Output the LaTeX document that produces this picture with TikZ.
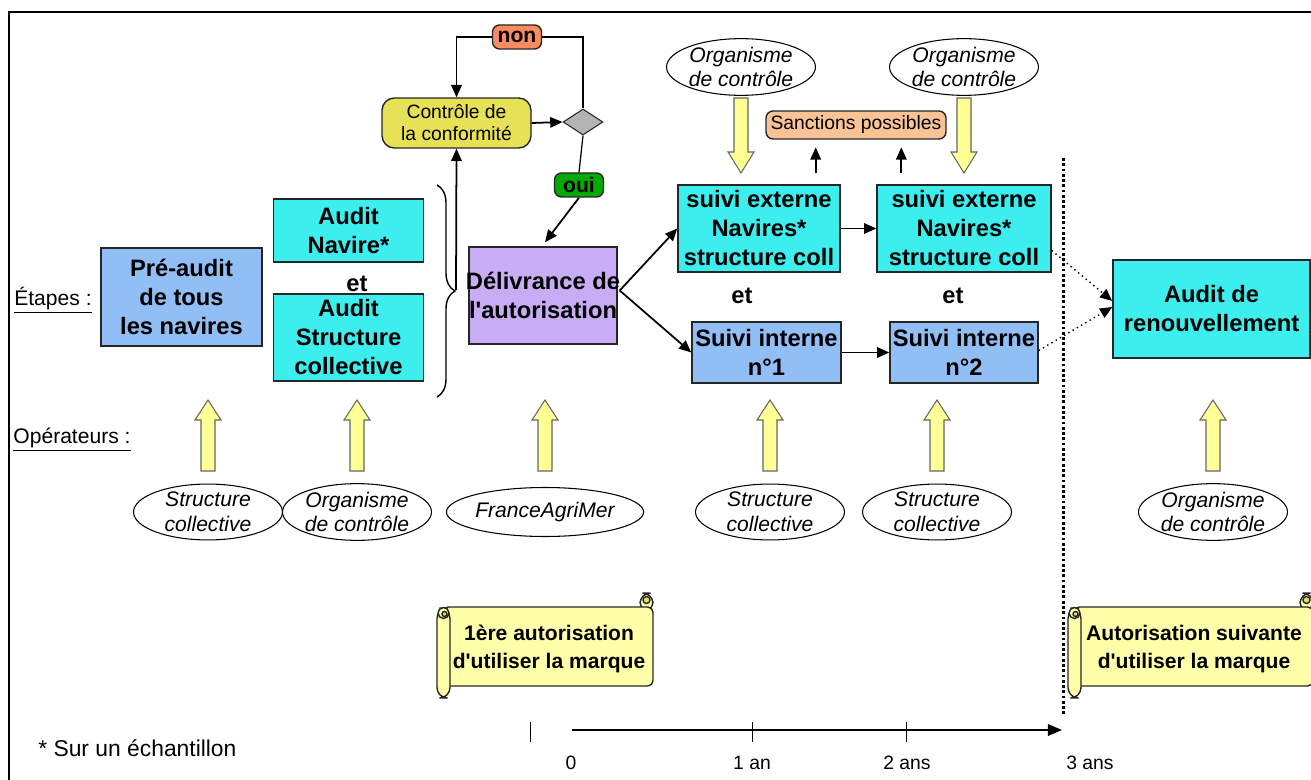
\documentclass[tikz,border=0pt]{standalone}
\usepackage{fontspec}
\setmainfont{Liberation Sans}[Ligatures=TeXOff]
\usetikzlibrary{shapes.geometric,arrows.meta,decorations.pathreplacing,calc}

\definecolor{cyanbox}{RGB}{60,238,238}
\definecolor{bluebox}{RGB}{145,190,245}
\definecolor{lilacbox}{RGB}{200,172,245}
\definecolor{ctrlyellow}{RGB}{230,225,85}
\definecolor{nonorange}{RGB}{250,140,95}
\definecolor{ouigreen}{RGB}{0,170,0}
\definecolor{sanctorange}{RGB}{250,195,150}
\definecolor{decgray}{RGB}{180,180,180}
\definecolor{scrollyellow}{RGB}{255,255,170}
\definecolor{scrolldark}{RGB}{225,225,110}
\definecolor{arrowyellow}{RGB}{255,255,150}

% scroll banner: left x, right x
\newcommand{\scrollshape}[2]{%
  \filldraw[scrollline, rounded corners=6] (#2-13,612) rectangle (#2,593);
  \filldraw[scrollline, rounded corners=3] (#1+6,607) rectangle (#2,686);
  \filldraw[scrollline, fill=scrolldark] (#2-6.5,600) circle (3.5);
  \filldraw[scrollline, rounded corners=6] (#1,608) rectangle (#1+13,698);
  \filldraw[scrollline] (#1+6.5,613) circle (5.5);
  \filldraw[scrollline, fill=scrolldark] (#1+7.5,614) circle (2.5);
}

% block arrow: x, tail y, neck y, tip y
\newcommand{\blockarrow}[4]{%
  \filldraw[yarrow] (#1-7,#2) -- (#1-7,#3) -- (#1-13,#3) -- (#1,#4)
    -- (#1+13,#3) -- (#1+7,#3) -- (#1+7,#2) -- cycle;
}

\begin{document}
\begin{tikzpicture}[x=0.02cm, y=-0.02cm,
    box/.style={draw=black!85, line width=0.8pt, align=center, inner sep=1pt,
      font=\bfseries\fontsize{13.5}{16.5}\selectfont},
    boxtext/.style={align=center, inner sep=0pt,
      font=\bfseries\fontsize{13.5}{16.5}\selectfont},
    tag/.style={draw=black!85, line width=0.8pt, rounded corners=4pt, align=center,
      inner sep=1pt},
    op/.style={ellipse, draw, line width=0.6pt, fill=white, inner sep=0pt,
      minimum width=2.98cm, minimum height=0.98cm, align=center,
      font=\itshape\fontsize{12}{14}\selectfont},
    yarrow/.style={draw=black!60, line width=0.6pt, fill=arrowyellow},
    lab/.style={inner sep=0pt, font=\fontsize{12}{14}\selectfont},
    etlab/.style={inner sep=0pt, font=\bfseries\fontsize{13.5}{16}\selectfont},
    arr/.style={line width=1pt, -{Triangle[length=7pt, width=6pt]}},
    thinline/.style={line width=0.7pt},
    dotarr/.style={line width=0.8pt, dotted, -{Triangle[length=7pt, width=6pt]}},
    scrollline/.style={draw=black!85, line width=0.8pt, fill=scrollyellow},
    scrolltext/.style={align=center, inner sep=0pt,
      font=\bfseries\fontsize{12}{16}\selectfont},
    ticklab/.style={inner sep=0pt, font=\fontsize{11}{13}\selectfont}
  ]
\useasboundingbox (0,0) rectangle (1311,780);
\clip (0,0) rectangle (1311,780);
\draw[line width=0.9pt] (9,12) rectangle (1340,800);

% row titles
\node[lab] (etapes) at (53,300) {\underline{Étapes :}};
\node[lab] (oper) at (72,440) {\underline{Opérateurs :}};

% first audits
\node[box, fill=bluebox, minimum width=3.22cm, minimum height=1.96cm] (pre) at (181.5,297)
  {Pré-audit\\de tous\\les navires};
\node[box, fill=cyanbox, minimum width=3.0cm, minimum height=1.26cm] (auditnav) at (348.5,230.5)
  {Audit\\Navire*};
\node[etlab] (et1) at (357,284) {et};
\node[box, fill=cyanbox, minimum width=3.0cm, minimum height=1.74cm] (auditsc) at (348.5,337.5)
  {Audit\\Structure\\collective};
\draw[line width=0.8pt, decorate, decoration={brace, amplitude=0.36cm}] (437,185) -- (437,397);
\coordinate (bracetip) at (456,290);

% compliance loop
\node[tag, fill=ctrlyellow, rounded corners=7pt, minimum width=2.98cm, minimum height=1.0cm,
  font=\fontsize{11}{12.5}\selectfont] (ctrl) at (456.5,123) {Contrôle de\\la conformité};
\node[diamond, draw=black!85, line width=0.6pt, fill=decgray, inner sep=0pt,
  minimum width=0.8cm, minimum height=0.52cm] (dec) at (583,122) {};
\node[tag, fill=nonorange, minimum width=0.98cm, minimum height=0.48cm,
  font=\bfseries\fontsize{12}{13}\selectfont] (non) at (517,37) {non};
\node[tag, fill=ouigreen, minimum width=0.98cm, minimum height=0.48cm,
  font=\bfseries\fontsize{12}{13}\selectfont] (oui) at (579,185) {oui};

\draw[arr] (bracetip) -- (ctrl.south);
\draw[arr] (ctrl.east) -- (dec.west);
\draw[thinline] (dec.north) |- (non.east);
\draw[arr] (non.west) -| (ctrl.north);
\draw[thinline] (dec.south) -- (oui.north);

% authorisation and follow-up
\node[box, fill=lilacbox, minimum width=2.96cm, minimum height=1.94cm] (deliv) at (543,295.5) {};
\node[boxtext] (delivtxt) at (deliv) {Délivrance de\\l'autorisation};
\draw[arr] (oui.south) -- ($(deliv.north)+(2,-4)$);

\node[box, fill=cyanbox, minimum width=3.24cm, minimum height=1.74cm] (ext1) at (759,228.5)
  {suivi externe\\Navires*\\structure coll};
\node[box, fill=cyanbox, minimum width=3.48cm, minimum height=1.74cm] (ext2) at (964,228.5)
  {suivi externe\\Navires*\\structure coll};
\node[etlab] (et2) at (742,296) {et};
\node[etlab] (et3) at (953,296) {et};
\node[box, fill=bluebox, minimum width=2.98cm, minimum height=1.22cm] (int1) at (766.5,352.5)
  {Suivi interne\\n°1};
\node[box, fill=bluebox, minimum width=2.96cm, minimum height=1.22cm] (int2) at (964,352.5)
  {Suivi interne\\n°2};
\node[box, fill=cyanbox, minimum width=3.94cm, minimum height=1.96cm] (renouv) at (1211.5,309)
  {Audit de\\renouvellement};

\draw[arr] ($(deliv.east)+(2,-5)$) -- (ext1.west);
\draw[arr] ($(deliv.east)+(2,-5)$) -- (int1.west);
\draw[arr] (ext1.east) -- (ext2.west);
\draw[arr] (int1.east) -- (int2.west);
\draw[dotarr] ($(ext2.east)+(0,22)$) -- ($(renouv.west)+(0,-8)$);
\draw[dotarr] ($(int2.east)+(0,-2)$) -- ($(renouv.west)+(0,-2)$);

% sanctions
\node[tag, fill=sanctorange, minimum width=3.6cm, minimum height=0.56cm,
  font=\fontsize{11}{13}\selectfont] (sanct) at (856,125) {Sanctions possibles};
\draw[arr] ($(ext1.north east)+(-25,-11)$) -- ++(0,-26);
\draw[arr] ($(ext2.north west)+(25,-11)$) -- ++(0,-26);

% control bodies above
\node[op] (topop1) at (741,67) {Organisme\\de contrôle};
\node[op] (topop2) at (964,67) {Organisme\\de contrôle};
\blockarrow{741}{98}{152}{173}
\blockarrow{964}{98}{152}{173}

% operators below
\foreach \x/\t [count=\i] in {208/{Structure\\collective}, 357/{Organisme\\de contrôle},
    545/{FranceAgriMer}, 770/{Structure\\collective}, 937/{Structure\\collective},
    1213/{Organisme\\de contrôle}} {
  \node[op] (op\i) at (\x,512) {\t};
  \blockarrow{\x}{471}{420}{400}
}

% limit of the 3 years
\draw[line width=1.7pt, dash pattern=on 1.6pt off 1.4pt] (1063,158) -- (1063,716);

% scrolls
\scrollshape{437}{653}
\node[scrolltext] (sc1) at (549,649) {1ère autorisation\\d'utiliser la marque};
\scrollshape{1068}{1313}
\node[scrolltext] (sc2) at (1194,649) {Autorisation suivante\\d'utiliser la marque};

% time axis
\draw[line width=1.2pt, -{Triangle[length=8pt, width=6.5pt]}] (572,730) -- (1062,730);
\foreach \x in {530,752,906}
  \draw[line width=0.5pt] (\x,722) -- (\x,742);
\node[ticklab] (t0) at (571,763) {0};
\node[ticklab] (t1) at (752,763) {1 an};
\node[ticklab] (t2) at (907,763) {2 ans};
\node[ticklab] (t3) at (1090,763) {3 ans};

\node[inner sep=0pt, anchor=west, font=\fontsize{13}{15}\selectfont] (note) at (38,748)
  {* Sur un échantillon};
\end{tikzpicture}
\end{document}
